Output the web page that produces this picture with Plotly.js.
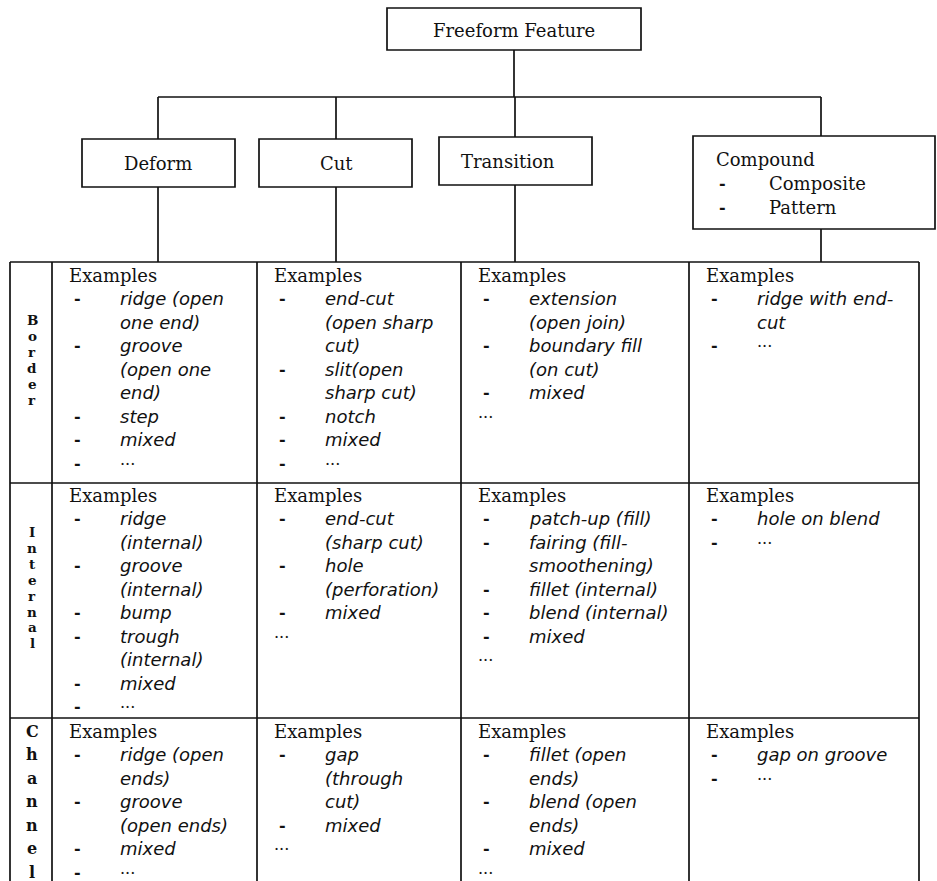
<!DOCTYPE html>
<html><head><meta charset="utf-8">
<script src="https://cdn.plot.ly/plotly-3.0.1.min.js"></script>
<style>html,body{margin:0;padding:0;background:#fff}</style>
</head><body><div id="chart" style="width:937px;height:881px"></div>
<script>
// ---------------- content ----------------
const rootLabel = 'Freeform Feature';
const typeLabels = ['Deform', 'Cut', 'Transition', 'Compound'];
const compoundSubtypes = ['Composite', 'Pattern'];
const rowLabels = ['Border', 'Internal', 'Channel'];
const cellHeading = 'Examples';
const MORE = '...';
const PLAIN = null; // "..." without a bullet
// each item = wrapped lines of one bulleted example
const borderCells = [
  [['ridge (open', 'one end)'], ['groove', '(open one', 'end)'], ['step'], ['mixed'], [MORE]],
  [['end-cut', '(open sharp', 'cut)'], ['slit(open', 'sharp cut)'], ['notch'], ['mixed'], [MORE]],
  [['extension', '(open join)'], ['boundary fill', '(on cut)'], ['mixed'], PLAIN],
  [['ridge with end-', 'cut'], [MORE]]
];
const internalCells = [
  [['ridge', '(internal)'], ['groove', '(internal)'], ['bump'], ['trough', '(internal)'], ['mixed'], [MORE]],
  [['end-cut', '(sharp cut)'], ['hole', '(perforation)'], ['mixed'], PLAIN],
  [['patch-up (fill)'], ['fairing (fill-', 'smoothening)'], ['fillet (internal)'], ['blend (internal)'], ['mixed'], PLAIN],
  [['hole on blend'], [MORE]]
];
const channelCells = [
  [['ridge (open', 'ends)'], ['groove', '(open ends)'], ['mixed'], [MORE]],
  [['gap', '(through', 'cut)'], ['mixed'], PLAIN],
  [['fillet (open', 'ends)'], ['blend (open', 'ends)'], ['mixed'], PLAIN],
  [['gap on groove'], [MORE]]
];
const allCells = [borderCells, internalCells, channelCells];

// ---------------- layout geometry ----------------
const W = 937, H = 881;
const LW = 1.7, INK = '#111';
const serif = 'DejaVu Serif, Liberation Serif, serif';
const sans = 'DejaVu Sans, Liberation Sans, sans-serif';
const rootBox = [387, 8, 641, 50];
const busY = 97;
const typeBoxes = [[82, 139, 235, 187], [259, 139, 412, 187], [439, 137, 592, 185], [693, 136, 935, 229]];
const dropX = [158, 336, 515, 821];
const typeTextX = [158, 336, 508, 714];
const typeTextY = [163, 163, 161, 159];
const colEdges = [10, 52, 257, 461, 689, 919];
const rowEdges = [262, 483, 718, 900];
const rowFirstLine = [275, 495, 731];
const lineStep = 23.5;
const labelStart = [320, 532, 731];
const labelStep = [16, 15.9, 23.5];
const labelSize = [13.5, 13.5, 16];

const shapes = [];
const ann = [];
function line(x0, y0, x1, y1) {
  shapes.push({type: 'line', xref: 'x', yref: 'y', x0, y0, x1, y1, line: {color: INK, width: LW}});
}
function rect(b) {
  shapes.push({type: 'rect', xref: 'x', yref: 'y', x0: b[0], y0: b[1], x1: b[2], y1: b[3], line: {color: INK, width: LW}});
}
function text(t, x, y, opts) {
  ann.push(Object.assign({text: t, x, y, xref: 'x', yref: 'y', showarrow: false,
    xanchor: 'left', yanchor: 'middle', font: {family: serif, size: 18, color: INK}}, opts || {}));
}

// tree
rect(rootBox);
text(rootLabel, (rootBox[0] + rootBox[2]) / 2, 30, {xanchor: 'center'});
line(514, rootBox[3], 514, busY);
line(dropX[0], busY, dropX[3], busY);
typeBoxes.forEach((b, i) => {
  rect(b);
  line(dropX[i], busY, dropX[i], b[1]);
  line(dropX[i], b[3], dropX[i], rowEdges[0]);
  if (i < 3) text(typeLabels[i], typeTextX[i], typeTextY[i], {xanchor: 'center'});
  else text(typeLabels[i], typeTextX[i], typeTextY[i]);
});
compoundSubtypes.forEach((s, k) => {
  const y = 183 + k * 24;
  text('<b>-</b>', 717, y, {font: {family: serif, size: 16, color: INK}});
  text(s, 767, y);
});

// table grid
colEdges.forEach(x => line(x, rowEdges[0], x, H + 10));
rowEdges.slice(0, 3).forEach(y => line(colEdges[0], y, colEdges[5], y));

// row labels (stacked letters)
rowLabels.forEach((lab, r) => {
  lab.split('').forEach((ch, k) => {
    text('<b>' + ch + '</b>', (colEdges[0] + colEdges[1]) / 2 + 1, labelStart[r] + k * labelStep[r],
      {xanchor: 'center', font: {family: serif, size: labelSize[r], color: INK}});
  });
});

// cells
allCells.forEach((row, r) => {
  row.forEach((items, c) => {
    const left = colEdges[c + 1];
    let y = rowFirstLine[r];
    text(cellHeading, left + 15, y);
    items.forEach(item => {
      y += lineStep;
      if (item === PLAIN) {
        text(MORE, left + 15, y - 4, {font: {family: serif, size: 16, color: INK}});
        return;
      }
      text('<b>-</b>', left + 20, y, {font: {family: serif, size: 16, color: INK}});
      item.forEach((ln, k) => {
        if (k > 0) y += lineStep;
        if (ln === MORE) text(MORE, left + 66, y - 4, {font: {family: serif, size: 16, color: INK}});
        else text('<i>' + ln + '</i>', left + 66, y, {font: {family: sans, size: 18, color: INK}});
      });
    });
  });
});

const data = [{type: 'scatter', x: [0], y: [0], mode: 'markers', marker: {opacity: 0}, hoverinfo: 'skip', showlegend: false}];
const layout = {
  width: W, height: H, autosize: false,
  margin: {l: 0, r: 0, t: 0, b: 0, pad: 0},
  paper_bgcolor: '#fff', plot_bgcolor: '#fff',
  xaxis: {range: [0, W], visible: false, fixedrange: true},
  yaxis: {range: [H, 0], visible: false, fixedrange: true},
  shapes, annotations: ann, showlegend: false
};
Plotly.newPlot('chart', data, layout, {staticPlot: true, displayModeBar: false});
</script>
</body></html>
